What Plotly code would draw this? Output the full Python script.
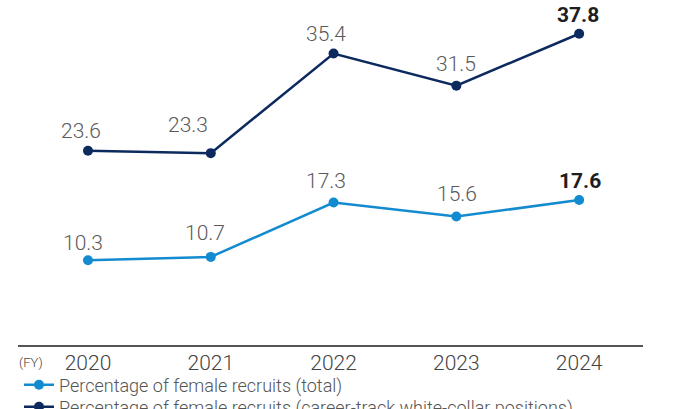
import plotly.graph_objects as go

# Fiscal years and recruitment ratios (%)
years = [2020, 2021, 2022, 2023, 2024]
female_total = [10.3, 10.7, 17.3, 15.6, 17.6]
female_career_track = [23.6, 23.3, 35.4, 31.5, 37.8]

series_names = [
    "Percentage of female recruits (total)",
    "Percentage of female recruits (career-track white-collar positions)",
]

LIGHT_BLUE = "#138bd0"
NAVY = "#0c2a5e"
LABEL_GRAY = "#5a5a5a"
LABEL_DARK = "#1e1e1e"
FONT = "Roboto Light, Roboto, sans-serif"

# hand-tuned label nudges (px) so labels sit clear of the lines
total_label_shift = [(-5, 16), (-6, 23), (-8, 21), (1, 22), (1, 18)]
career_label_shift = [(-7, 19), (-23, 27), (-8, 19), (0, 21), (-1, 18)]

fig = go.Figure()

for name, values, color, legend_id, shifts in [
    (series_names[0], female_total, LIGHT_BLUE, "legend", total_label_shift),
    (series_names[1], female_career_track, NAVY, "legend2", career_label_shift),
]:
    fig.add_trace(go.Scatter(
        x=years,
        y=values,
        name=name,
        legend=legend_id,
        mode="lines+markers",
        line=dict(color=color, width=2.5),
        marker=dict(color=color, size=10),
        cliponaxis=False,
    ))
    last = len(values) - 1
    for i, (yr, v) in enumerate(zip(years, values)):
        dx, dy = shifts[i]
        is_latest = i == last
        fig.add_annotation(
            x=yr, y=v, text=f"{v:.1f}",
            xref="x", yref="y",
            xanchor="center", yanchor="middle",
            xshift=dx, yshift=dy + 1,
            showarrow=False,
            font=dict(
                family="Roboto" if is_latest else FONT,
                size=21,
                color=LABEL_DARK if is_latest else LABEL_GRAY,
                weight=700 if is_latest else 300,
            ),
        )

legend_style = dict(
    xref="container", yref="container",
    x=19 / 678,
    xanchor="left", yanchor="middle",
    orientation="v",
    font=dict(family=FONT, size=18, color="#555555", weight=300),
    bgcolor="rgba(0,0,0,0)",
)

fig.update_layout(
    width=678,
    height=409,
    margin=dict(l=18, r=35, t=0, b=64, autoexpand=False),
    paper_bgcolor="white",
    plot_bgcolor="white",
    font=dict(family=FONT, color="#444444"),
    showlegend=True,
    legend=dict(legend_style, y=1 - 385 / 409),
    legend2=dict(legend_style, y=1 - 407 / 409),
    xaxis=dict(
        range=[2020 - 0.57, 2024 + 0.52],
        tickmode="array",
        tickvals=years,
        ticktext=[str(y) for y in years],
        tickangle=0,
        tickfont=dict(family=FONT, size=21, color="#444444", weight=300),
        showgrid=False,
        zeroline=False,
        showline=True,
        linecolor="#555555",
        linewidth=1.5,
        ticks="",
        automargin=False,
        ticklabelstandoff=-2,
    ),
    yaxis=dict(
        range=[0, 41.9],
        visible=False,
        showgrid=False,
        zeroline=False,
    ),
)

fig.add_annotation(
    text="(FY)",
    xref="paper", yref="paper",
    x=-0.002, y=-0.052,
    xanchor="left", yanchor="middle",
    showarrow=False,
    font=dict(family=FONT, size=13, color="#444444", weight=300),
)

fig.write_html("out.html")
